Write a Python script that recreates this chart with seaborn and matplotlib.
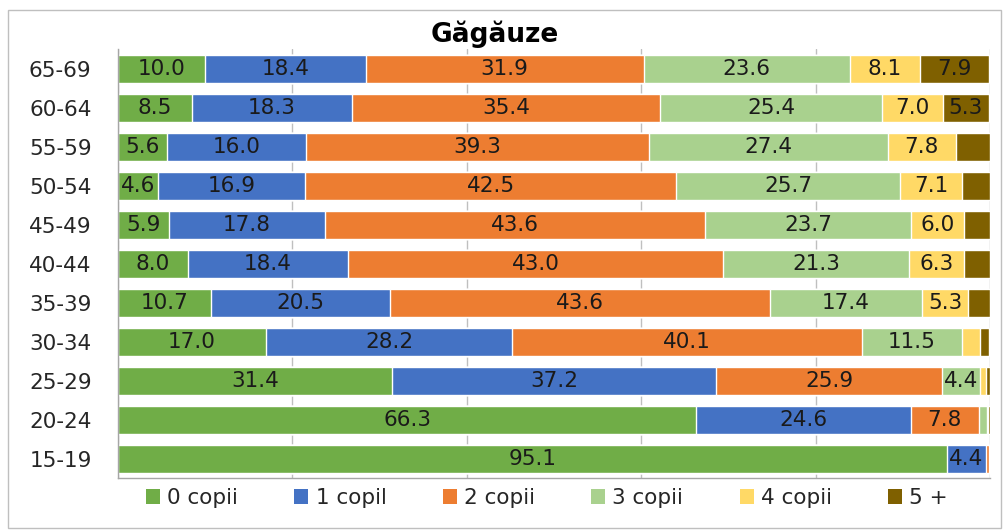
import matplotlib
matplotlib.use("Agg")
import matplotlib.pyplot as plt
from matplotlib.patches import Rectangle, Patch
import numpy as np
import pandas as pd
import seaborn as sns

ages = ["65-69", "60-64", "55-59", "50-54", "45-49", "40-44",
        "35-39", "30-34", "25-29", "20-24", "15-19"]
categories = ["0 copii", "1 copil", "2 copii", "3 copii", "4 copii", "5 +"]

copii_0 = [10.0, 8.5, 5.6, 4.6, 5.9, 8.0, 10.7, 17.0, 31.4, 66.3, 95.1]
copii_1 = [18.4, 18.3, 16.0, 16.9, 17.8, 18.4, 20.5, 28.2, 37.2, 24.6, 4.4]
copii_2 = [31.9, 35.4, 39.3, 42.5, 43.6, 43.0, 43.6, 40.1, 25.9, 7.8, 0.4]
copii_3 = [23.6, 25.4, 27.4, 25.7, 23.7, 21.3, 17.4, 11.5, 4.4, 1.0, 0.1]
copii_4 = [8.1, 7.0, 7.8, 7.1, 6.0, 6.3, 5.3, 2.1, 0.6, 0.1, 0.0]
copii_5 = [7.9, 5.3, 3.9, 3.2, 3.0, 3.0, 2.5, 1.0, 0.5, 0.2, 0.0]

colors = ["#70AD47", "#4472C4", "#ED7D31", "#A9D18E", "#FFD966", "#7F6000"]

series = [copii_0, copii_1, copii_2, copii_3, copii_4, copii_5]
values = np.array(series)            # shape (6, 11)
cumulative = np.cumsum(values, axis=0)

sns.set_theme(style="white")
plt.rcParams["font.family"] = ["DejaVu Sans"]

fig = plt.figure(figsize=(10.06, 5.31), dpi=100)
ax = fig.add_axes([0.1173, 0.0989, 0.8667, 0.8079])

# Stacked bars: draw running totals from the outermost segment inward
for i in range(len(categories) - 1, -1, -1):
    df = pd.DataFrame({"age": ages, "value": cumulative[i]})
    sns.barplot(data=df, x="value", y="age", orient="h", color=colors[i],
                width=0.7, saturation=1, ax=ax, zorder=2)

# Segment labels for segments wide enough to hold text
for i in range(len(categories)):
    for j, age in enumerate(ages):
        v = values[i, j]
        if v >= 4.0:
            ax.text(cumulative[i, j] - v / 2, j, f"{v:.1f}", ha="center",
                    va="center", fontsize=15.5, color="#1a1a1a", zorder=3)

ax.set_xlim(0, 100)
ax.set_ylim(len(ages) - 0.5, -0.5)
ax.set_xlabel("")
ax.set_ylabel("")
ax.set_xticks([0, 20, 40, 60, 80, 100])
ax.set_xticklabels([])
ax.grid(axis="x", color="#BFBFBF", linewidth=1, zorder=0)
ax.set_axisbelow(True)
ax.set_yticks(range(len(ages)))
ax.set_yticklabels(ages, fontsize=15.5, color="#262626")
ax.set_yticks(np.arange(-0.5, len(ages), 1), minor=True)
ax.tick_params(axis="y", which="major", length=0, pad=19)
ax.tick_params(axis="y", which="minor", length=5, color="#A6A6A6", direction="out")
ax.tick_params(axis="x", which="major", length=5, color="#A6A6A6", direction="out")

for side in ["top", "right"]:
    ax.spines[side].set_visible(False)
for side in ["left", "bottom"]:
    ax.spines[side].set_color("#A6A6A6")
    ax.spines[side].set_linewidth(1)

fig.text(0.492, 0.921, "Găgăuze", ha="center", va="baseline",
         fontsize=19, fontweight="bold", color="#000000")

handles = [Patch(facecolor=c, edgecolor="none") for c in colors]
fig.legend(handles, categories, loc="center", bbox_to_anchor=(0.5437, 0.062),
           ncol=6, frameon=False, fontsize=15.5, handlelength=0.65,
           handleheight=0.65, handletextpad=0.33, columnspacing=2.62,
           labelcolor="#262626")

fig.patches.append(Rectangle((0.008, 0.006), 0.987, 0.976, transform=fig.transFigure,
                             fill=False, edgecolor="#BFBFBF", linewidth=1))

fig.savefig("out.png", dpi=100)
